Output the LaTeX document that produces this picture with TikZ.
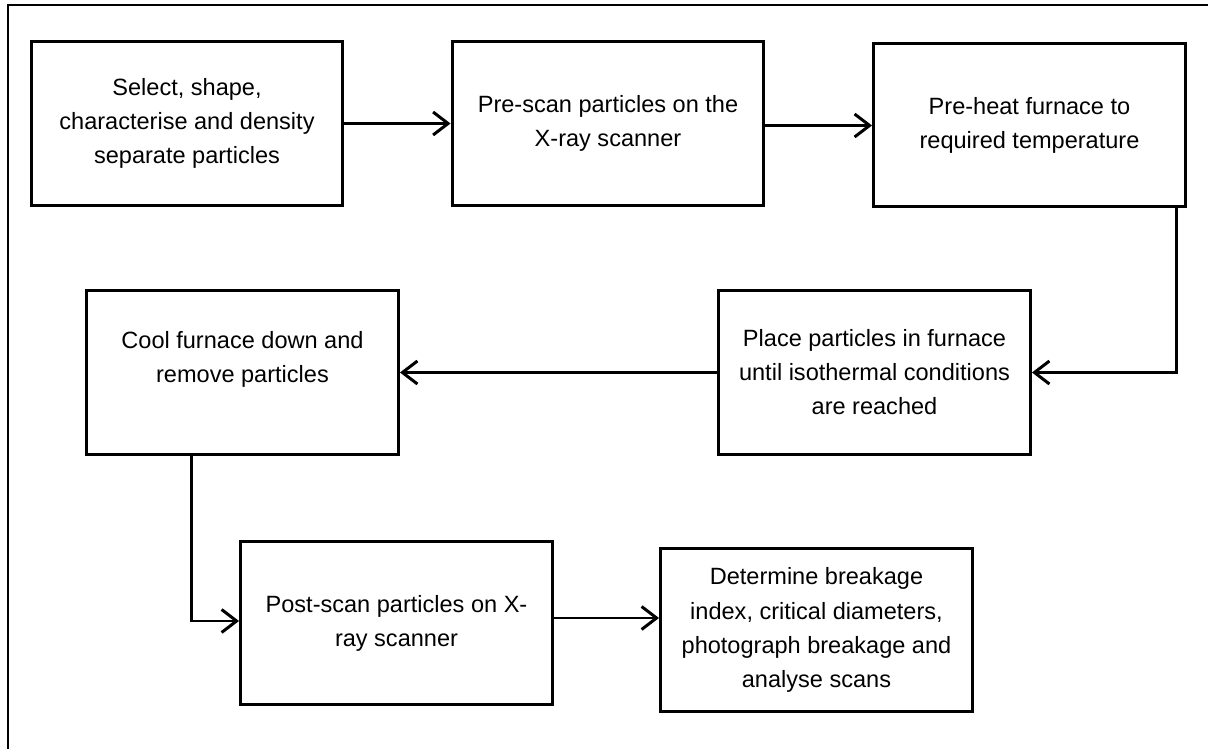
\documentclass[tikz,border=0pt]{standalone}
\usepackage{fontspec}
\setmainfont{Liberation Sans}
\usetikzlibrary{arrows.meta}

\begin{document}
\begin{tikzpicture}[x=0.02cm, y=-0.02cm, ->, >={Straight Barb[length=0.3cm, width=0.46cm]}, line width=1.7pt,
  step box/.style={draw, -, line width=1.7pt, align=center, inner sep=0pt, minimum width=6.24cm, minimum height=3.27cm, font=\fontsize{13.4}{19.4}\selectfont}]
\useasboundingbox (0,0) rectangle (1208,749);
\draw[-, line width=1.1pt] (8,749) -- (8,5) -- (1208,5);
\node[step box] (1) at (187,123.5) {Select, shape,\\characterise and density\\separate particles};
\node[step box] (2) at (608,123.5) {Pre-scan particles on the\\X-ray scanner};
\node[step box] (3) at (1029.5,125) {Pre-heat furnace to\\required temperature};
\node[step box] (4) at (874.5,372.5) {Place particles in furnace\\until isothermal conditions\\are reached};
\node[step box, text depth=18pt] (5) at (242.5,372.5) {Cool furnace down and\\remove particles};
\node[step box] (6) at (396.5,623) {Post-scan particles on X-\\ray scanner};
\node[step box] (7) at (816.5,630) {Determine breakage\\index, critical diameters,\\photograph breakage and\\analyse scans};
\draw (1.east) -- (1.east -| 2.west);
\draw ([yshift=-0.04cm]2.east) -- ([yshift=-0.04cm]2.east -| 3.west);
\draw ([xshift=-0.2cm]3.south east) |- (4.east);
\draw (4.west) -- (5.east);
\draw ([xshift=-1.03cm]5.south) |- ([yshift=0.04cm]6.west);
\draw ([yshift=0.1cm]6.east) -- ([yshift=0.1cm]6.east -| 7.west);
\end{tikzpicture}
\end{document}
